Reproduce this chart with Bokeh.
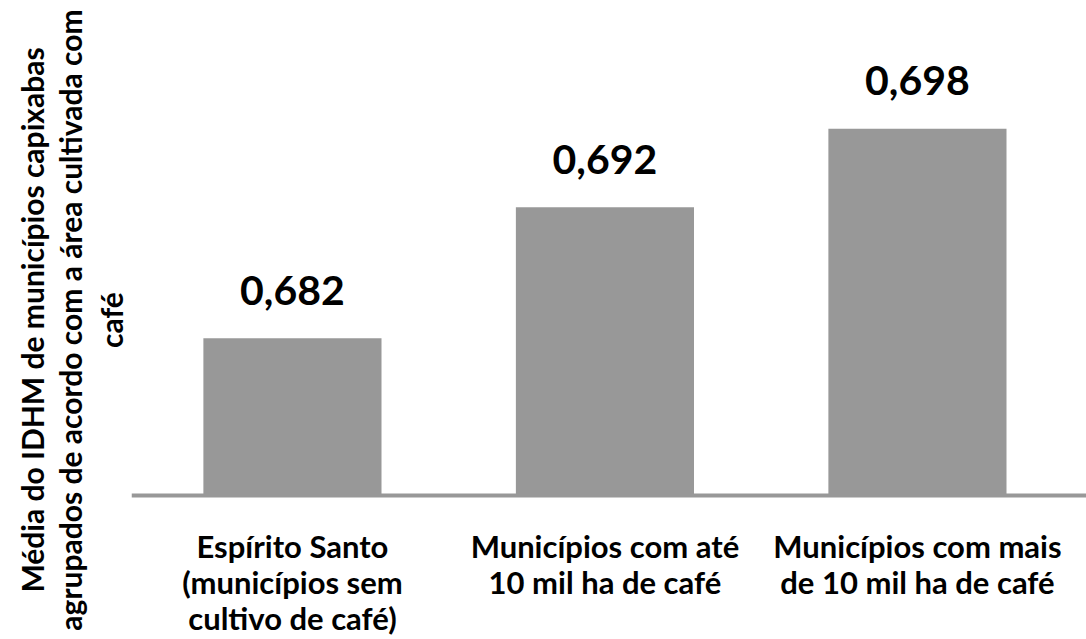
from bokeh.plotting import figure
from bokeh.models import Range1d, ColumnDataSource, Title, Span
from bokeh.embed import file_html
from bokeh.resources import INLINE
from bokeh.core.properties import value

categories = [
    "Espírito Santo\n(municípios sem\ncultivo de café)",
    "Municípios com até\n10 mil ha de café",
    "Municípios com mais\nde 10 mil ha de café",
]
idhm = [0.682, 0.692, 0.698]
labels = ["0,682", "0,692", "0,698"]
y_title_lines = [
    "Média do IDHM de municípios capixabas",
    "agrupados de acordo com a área cultivada com",
    "café",
]
BASELINE = 0.67

FONT = "Lato"
BAR = "#989898"

xs = list(range(len(categories)))
src = ColumnDataSource(dict(x=xs, top=idhm, lab=labels, cat=categories,
                            base=[BASELINE] * len(xs)))

p = figure(width=1086, height=639, output_backend="svg", toolbar_location=None,
           x_range=Range1d(-0.515, 2.541), y_range=Range1d(0.65901, 0.70779),
           min_border_left=131, min_border_right=0, min_border_top=0, min_border_bottom=0)
p.outline_line_color = None
p.grid.visible = False
p.xaxis.visible = False
p.yaxis.visible = False

p.vbar(x="x", top="top", bottom="base", width=0.57, source=src, fill_color=BAR, line_color=None)
p.add_layout(Span(location=BASELINE, dimension="width", line_color=BAR, line_width=4))
p.text(x="x", y="top", text="lab", source=src, text_align="center", text_baseline="alphabetic",
       y_offset=-48, text_font=value(FONT), text_font_style="bold", text_font_size="41px",
       text_color="black")
# category labels under the baseline
p.text(x="x", y="base", text="cat", source=src, text_align="center", text_baseline="top",
       y_offset=31, text_font=value(FONT), text_font_style="bold", text_font_size="31px",
       text_line_height=0.95, text_color="black")

# first added sits closest to the plot frame
for txt, sd in zip(reversed(y_title_lines), [6, 0, 0]):
    p.add_layout(Title(text=txt, align="center", standoff=sd, text_line_height=1.0,
                       text_font=FONT, text_font_style="bold", text_font_size="30px",
                       text_color="black"), "left")

open("out.html", "w").write(file_html(p, INLINE))
